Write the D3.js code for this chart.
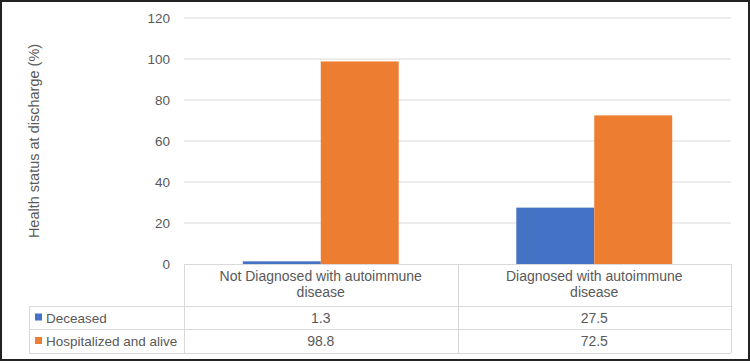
<!DOCTYPE html>
<html>
<head>
<meta charset="utf-8">
<script src="https://cdn.jsdelivr.net/npm/d3@7"></script>
<style>
  html, body { margin: 0; padding: 0; background: #fff; }
  svg { display: block; font-family: "Liberation Sans", Arial, sans-serif; }
</style>
</head>
<body>
<div id="container"></div>
<script>
// data
const categories = ["Not Diagnosed with autoimmune disease", "Diagnosed with autoimmune disease"];
const categoryLines = [["Not Diagnosed with autoimmune", "disease"], ["Diagnosed with autoimmune", "disease"]];
const seriesNames = ["Deceased", "Hospitalized and alive"];
const deceased = [1.3, 27.5];
const hospitalized = [98.8, 72.5];
const yTicks = [0, 20, 40, 60, 80, 100, 120];
const seriesColors = ["#4472C4", "#ED7D31"];

const width = 750, height = 363;
const plot = {left: 184, right: 731, top: 18, bottom: 264};
const tableLeft = 29;
const rowBottoms = [306, 329, 353];

const svg = d3.select("#container").append("svg")
    .attr("width", width)
    .attr("height", height);

// black frame round the whole picture
svg.append("rect")
    .attr("x", 1).attr("y", 1)
    .attr("width", width - 2).attr("height", height - 4)
    .attr("fill", "none")
    .attr("stroke", "#222")
    .attr("stroke-width", 2);

const y = d3.scaleLinear().domain([0, 120]).range([plot.bottom, plot.top]);
const x = d3.scaleBand().domain(categories).range([plot.left, plot.right]).paddingInner(0).paddingOuter(0);
const groupPad = 0.215;
const xs = d3.scaleBand().domain(seriesNames)
    .range([x.bandwidth() * groupPad, x.bandwidth() * (1 - groupPad)]);

// gridlines
svg.append("g")
    .selectAll("line")
    .data(yTicks.filter(d => d > 0))
    .join("line")
    .attr("x1", plot.left).attr("x2", plot.right)
    .attr("y1", d => y(d)).attr("y2", d => y(d))
    .attr("stroke", "#d9d9d9")
    .attr("stroke-width", 1);

// y axis labels
const yAxis = svg.append("g")
    .attr("transform", `translate(${plot.left - 10},0)`)
    .call(d3.axisLeft(y).tickValues(yTicks).tickSize(0).tickPadding(4));
yAxis.select(".domain").remove();
yAxis.selectAll("text")
    .attr("fill", "#595959")
    .style("font-size", "13.5px")
    .style("font-family", "Liberation Sans, Arial, sans-serif");

svg.append("text")
    .attr("transform", `translate(39,${(plot.top + plot.bottom) / 2}) rotate(-90)`)
    .attr("text-anchor", "middle")
    .attr("fill", "#595959")
    .style("font-size", "14.5px")
    .text("Health status at discharge (%)");

// bars
const series = [deceased, hospitalized];
const bars = svg.append("g");
seriesNames.forEach((name, si) => {
    bars.selectAll(null)
        .data(categories.map((c, i) => ({cat: c, value: series[si][i]})))
        .join("rect")
        .attr("x", d => x(d.cat) + xs(name))
        .attr("width", xs.bandwidth())
        .attr("y", d => y(d.value))
        .attr("height", d => y(0) - y(d.value))
        .attr("fill", seriesColors[si]);
});

// data table under the chart
const table = svg.append("g").attr("stroke", "#d9d9d9").attr("stroke-width", 1).attr("fill", "none");
// horizontal lines
table.append("line").attr("x1", plot.left).attr("x2", plot.right).attr("y1", plot.bottom + 0.5).attr("y2", plot.bottom + 0.5);
rowBottoms.forEach(rb => {
    table.append("line").attr("x1", tableLeft).attr("x2", plot.right).attr("y1", rb + 0.5).attr("y2", rb + 0.5);
});
// vertical lines
table.append("line").attr("x1", tableLeft + 0.5).attr("x2", tableLeft + 0.5).attr("y1", rowBottoms[0]).attr("y2", rowBottoms[2]);
[plot.left, x(categories[1]), plot.right].forEach(vx => {
    table.append("line").attr("x1", Math.round(vx) + 0.5).attr("x2", Math.round(vx) + 0.5)
        .attr("y1", plot.bottom).attr("y2", rowBottoms[2]);
});

// category labels
categories.forEach((c, i) => {
    const t = svg.append("text")
        .attr("x", x(c) + x.bandwidth() / 2)
        .attr("text-anchor", "middle")
        .attr("fill", "#595959")
        .style("font-size", "14px");
    categoryLines[i].forEach((line, li) => {
        t.append("tspan")
            .attr("x", x(c) + x.bandwidth() / 2)
            .attr("y", 281 + li * 16)
            .text(line);
    });
});

// value rows with legend keys
const rowTops = [rowBottoms[0], rowBottoms[1]];
seriesNames.forEach((name, si) => {
    const cy = (rowTops[si] + rowBottoms[si + 1]) / 2;
    svg.append("rect")
        .attr("x", 35).attr("y", cy - 4)
        .attr("width", 7).attr("height", 7)
        .attr("fill", seriesColors[si]);
    svg.append("text")
        .attr("x", 46).attr("y", cy + 5)
        .attr("fill", "#595959")
        .style("font-size", "13.5px")
        .text(name);
    categories.forEach((c, i) => {
        svg.append("text")
            .attr("x", x(c) + x.bandwidth() / 2)
            .attr("y", cy + 5)
            .attr("text-anchor", "middle")
            .attr("fill", "#595959")
            .style("font-size", "14px")
            .text(series[si][i]);
    });
});
</script>
</body>
</html>
